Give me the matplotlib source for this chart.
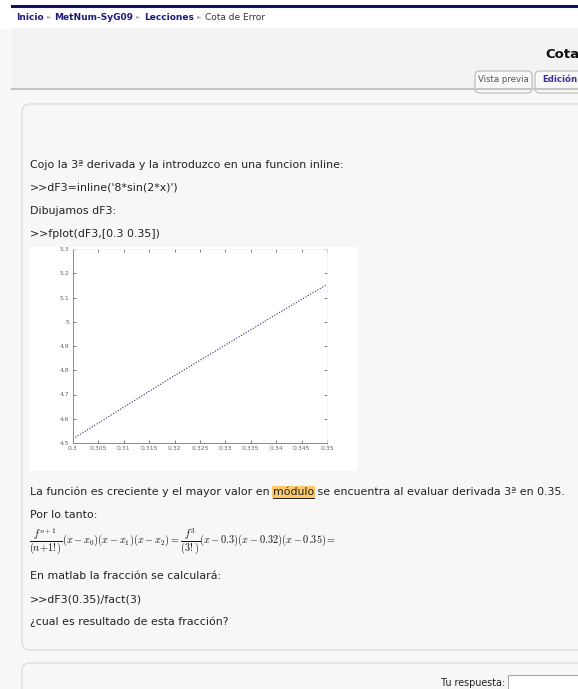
import numpy as np
import matplotlib.pyplot as plt
from matplotlib.patches import Rectangle, FancyBboxPatch

plt.rcParams['mathtext.fontset'] = 'cm'

x_vals = [0.300, 0.310, 0.320, 0.330, 0.340, 0.350]
y_vals = [4.517, 4.648, 4.778, 4.904, 5.030, 5.154]
x_ticks = [0.3, 0.305, 0.31, 0.315, 0.32, 0.325, 0.33, 0.335, 0.34, 0.345, 0.35]
x_labels = ['0.3', '0.305', '0.31', '0.315', '0.32', '0.325', '0.33', '0.335', '0.34', '0.345', '0.35']
y_ticks = [4.5, 4.6, 4.7, 4.8, 4.9, 5.0, 5.1, 5.2, 5.3]
y_labels = ['4.5', '4.6', '4.7', '4.8', '4.9', '5', '5.1', '5.2', '5.3']

crumbs = ['Inicio', 'MetNum-SyG09', 'Lecciones', 'Cota de Error']
lines_top = ["Cojo la 3ª derivada y la introduzco en una funcion inline:",
             ">>dF3=inline('8*sin(2*x)')",
             "Dibujamos dF3:",
             ">>fplot(dF3,[0.3 0.35])"]
lines_bottom = ["Por lo tanto:", None, "En matlab la fracción se calculará:",
                ">>dF3(0.35)/fact(3)", "¿cual es resultado de esta fracción?"]

W, H = 578, 689
fig = plt.figure(figsize=(W / 100, H / 100), dpi=100)
fig.patch.set_facecolor('#f8f8f8')
bg = fig.add_axes([0, 0, 1, 1])
bg.set_xlim(0, W)
bg.set_ylim(H, 0)
bg.axis('off')

fs = 7.9
txt = '#222222'
navy = '#1c1c78'

# cabecera
bg.add_patch(Rectangle((0, 0), W, 28, color='white', zorder=0))
bg.plot([12, W], [6, 6], color='#101060', lw=2.2)
bg.add_patch(Rectangle((12, 28), W - 12, 60, color='#f3f3f3', zorder=0))

r = fig.canvas.get_renderer()
x = 16
for i, c in enumerate(crumbs):
    last = i == len(crumbs) - 1
    t = bg.text(x, 17, c, fontsize=6.5, fontweight='normal' if last else 'bold',
                color='#333333' if last else navy, va='center')
    bb = t.get_window_extent(r)
    x += bb.width + 3
    if not last:
        s = bg.text(x, 17, '►', fontsize=4.5, color='#b0b0b0', va='center')
        x += s.get_window_extent(r).width + 3

bg.text(W + 1, 55, 'Cota', fontsize=9.5, fontweight='bold', color='#111111',
        ha='right', va='center')

for (x0, x1, lab, col, w) in [(475, 532, 'Vista previa', '#555555', 'normal'),
                              (535, 585, 'Edición', '#3b2f9a', 'bold')]:
    bg.add_patch(FancyBboxPatch((x0, 71), x1 - x0, 22,
                                boxstyle='round,pad=0,rounding_size=5',
                                fc='#f9f9f9', ec='#b8b8b8', lw=0.8, zorder=2))
    bg.text((x0 + x1) / 2, 79.5, lab, fontsize=6.2, color=col, fontweight=w,
            ha='center', va='center', zorder=3)
bg.plot([12, W], [88.5, 88.5], color='#c4c4c4', lw=1.5, zorder=4)

# caja de contenido
bg.add_patch(FancyBboxPatch((22, 104), W + 20, 546,
                            boxstyle='round,pad=0,rounding_size=8',
                            fc='#f7f7f7', ec='#dadada', lw=0.9))
bg.add_patch(FancyBboxPatch((22, 663), W + 20, 60,
                            boxstyle='round,pad=0,rounding_size=8',
                            fc='#f7f7f7', ec='#dadada', lw=0.9))

for i, s in enumerate(lines_top):
    bg.text(30, 165 + 23 * i, s, fontsize=fs, color=txt, va='center')

# caja blanca de la figura
bg.add_patch(Rectangle((30, 247), 327, 223, color='white', zorder=1))

# texto con "módulo" resaltado
y = 492
t = bg.text(30, y, 'La función es creciente y el mayor valor en ', fontsize=fs,
            color=txt, va='center')
x = 30 + t.get_window_extent(r).width
t2 = bg.text(x, y, 'módulo', fontsize=fs, color='#222222', va='center',
             bbox=dict(boxstyle='square,pad=0.1', fc='#fbc86a', ec='none'))
w2 = t2.get_window_extent(r).width
bg.plot([x, x + w2], [y + 5.5, y + 5.5], color='#222222', lw=0.7, zorder=5)
bg.text(x + w2, y, ' se encuentra al evaluar derivada 3ª en 0.35.', fontsize=fs,
        color=txt, va='center')

ys = [515, 542, 576, 599, 622]
for s, yy in zip(lines_bottom, ys):
    if s is not None:
        bg.text(30, yy, s, fontsize=fs, color=txt, va='center')
formula = (r'$\dfrac{f^{n+1}}{(n{+}1!)}(x-x_0)(x-x_1)(x-x_2)='
           r'\dfrac{f^3}{(3!)}(x-0.3)(x-0.32)(x-0.35)=$')
bg.text(29, 542, formula, fontsize=7.4, color='#111111', va='center')

bg.text(505, 683, 'Tu respuesta:', fontsize=6.9, color='#222222', ha='right', va='center')
bg.add_patch(Rectangle((508, 675), 80, 20, fc='white', ec='#a8a8a8', lw=0.8))

# grafica de matlab
ax = fig.add_axes([73 / W, (H - 443) / H, (327 - 73) / W, (443 - 249) / H])
ax.plot(x_vals, y_vals, color='#2a2a70', lw=0.8, ls=(0, (1, 1.5)))
ax.set_xlim(0.3, 0.35)
ax.set_ylim(4.5, 5.3)
ax.set_xticks(x_ticks)
ax.set_xticklabels(x_labels)
ax.set_yticks(y_ticks)
ax.set_yticklabels(y_labels)
ax.tick_params(direction='in', length=2.5, width=0.6, labelsize=4.4,
               colors='#666666', top=True, right=True, pad=2.5)
for side in ['left', 'bottom']:
    ax.spines[side].set_color('#8a8a8a')
    ax.spines[side].set_linewidth(0.7)
for side in ['top', 'right']:
    ax.spines[side].set_color('#eeeeee')
    ax.spines[side].set_linewidth(0.5)

fig.savefig('out.png', dpi=100)
